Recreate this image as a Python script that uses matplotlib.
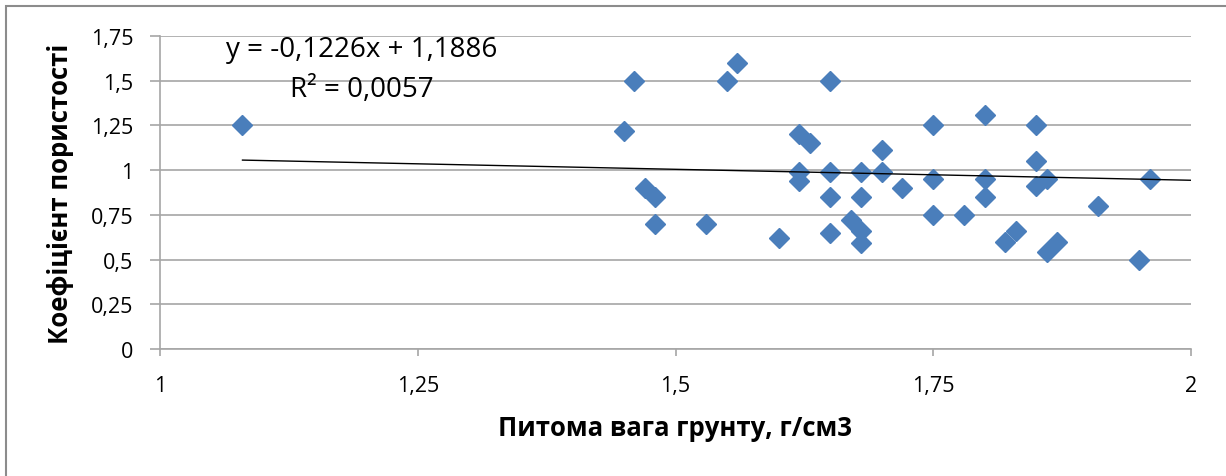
import numpy as np
import matplotlib.pyplot as plt
from matplotlib.patches import Rectangle

# питома вага грунту (г/см3) і коефіцієнт пористості
vaga = [1.08, 1.46, 1.45, 1.47, 1.48, 1.48, 1.53, 1.55, 1.56, 1.60,
        1.62, 1.63, 1.62, 1.62, 1.65, 1.65, 1.65, 1.65, 1.67, 1.68,
        1.68, 1.68, 1.68, 1.70, 1.70, 1.72, 1.75, 1.75, 1.75, 1.78,
        1.80, 1.80, 1.80, 1.82, 1.83, 1.85, 1.85, 1.85, 1.86, 1.86,
        1.87, 1.91, 1.95, 1.96]
porist = [1.25, 1.50, 1.22, 0.90, 0.85, 0.70, 0.70, 1.50, 1.60, 0.62,
          1.20, 1.15, 0.99, 0.94, 1.50, 0.99, 0.85, 0.65, 0.72, 0.66,
          0.59, 0.99, 0.85, 1.11, 0.99, 0.90, 1.25, 0.95, 0.75, 0.75,
          1.31, 0.95, 0.85, 0.60, 0.66, 1.25, 1.05, 0.91, 0.95, 0.54,
          0.60, 0.80, 0.50, 0.95]

# лінія тренду з Excel
k = -0.1226
b = 1.1886
trend_x = [1.08, 2.0]

xticks = [1, 1.25, 1.5, 1.75, 2]
xtick_labels = ["1", "1,25", "1,5", "1,75", "2"]
yticks = [0, 0.25, 0.5, 0.75, 1, 1.25, 1.5, 1.75]
ytick_labels = ["0", "0,25", "0,5", "0,75", "1", "1,25", "1,5", "1,75"]

plt.rcParams['font.family'] = ['Open Sans', 'DejaVu Sans']

fig = plt.figure(figsize=(12.26, 4.77), dpi=100)
fig.patches.append(Rectangle((6/1226, -0.1), 1.2, 1 - 7/477 + 0.1,
                             transform=fig.transFigure, fill=False,
                             edgecolor='#8c8c8c', linewidth=1.5))

ax = fig.add_axes([160/1226, 1 - 350/477, 1031/1226, 313/477])

ax.plot(vaga, porist, linestyle='none', marker='D', markersize=10,
        color='#4a7ebb', markeredgecolor='#4a7ebb', zorder=3)

tx = np.array(trend_x)
ax.plot(tx, k * tx + b, color='black', linewidth=1, zorder=4)

ax.set_xlim(1, 2)
ax.set_ylim(0, 1.75)
ax.set_xticks(xticks)
ax.set_xticklabels(xtick_labels)
ax.set_yticks(yticks)
ax.set_yticklabels(ytick_labels)

ax.grid(axis='y', color='#a6a6a6', linewidth=1.2)
ax.set_axisbelow(True)
for s in ['top', 'right']:
    ax.spines[s].set_visible(False)
for s in ['left', 'bottom']:
    ax.spines[s].set_color('#a6a6a6')
    ax.spines[s].set_linewidth(1.2)
ax.tick_params(axis='both', colors='#a6a6a6', labelcolor='black',
               labelsize=15.5, width=1.2)
ax.tick_params(axis='y', length=7, pad=12)
ax.tick_params(axis='x', length=5, pad=14)

ax.set_xlabel("Питома вага грунту, г/см3", fontsize=18.5, fontweight='bold',
              labelpad=13)
ax.set_ylabel("Коефіцієнт пористості", fontsize=18.5, fontweight='bold',
              labelpad=12)

ax.text(1.196, 1.677, "y = -0,1226x + 1,1886", fontsize=20, ha='center',
        va='center')
ax.text(1.196, 1.453, "R² = 0,0057", fontsize=20, ha='center', va='center')

fig.savefig("out.png", dpi=100)
